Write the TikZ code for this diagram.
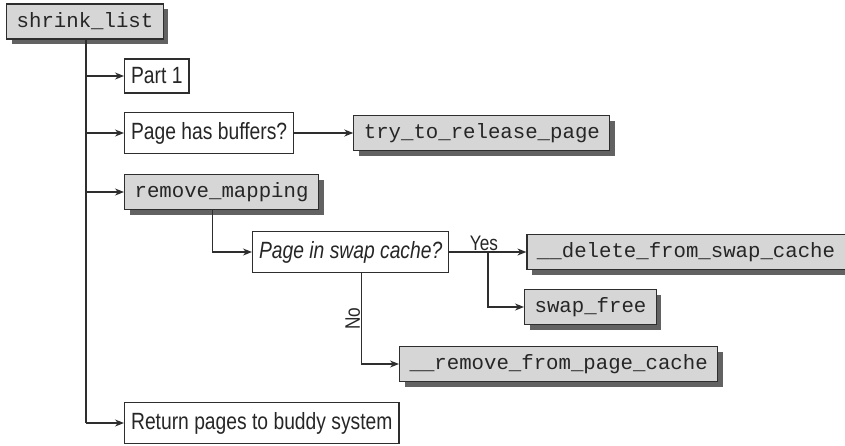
\documentclass[tikz,border=0pt]{standalone}
\usepackage{fontspec}
\setmainfont{Liberation Sans}[FakeStretch=0.82]
\setmonofont{Liberation Mono}
\usepackage{xcolor}
\usepackage{tikz}
\usetikzlibrary{arrows.meta, positioning, shadows}
\definecolor{klgray}{HTML}{D6D6D6}
\definecolor{klshadow}{HTML}{626262}
\definecolor{klline}{HTML}{2E2E2E}

\begin{document}
\begin{tikzpicture}[
  x=1pt, y=-1pt,
  fn/.style={rectangle, draw=klline, fill=klgray, line width=1.2pt,
    font=\fontsize{20.7}{24}\selectfont\ttfamily, text=black!85,
    minimum height=35pt, inner xsep=10pt, anchor=west,
    drop shadow={shadow xshift=5pt, shadow yshift=-5pt, fill=klshadow, opacity=1}},
  txt/.style={rectangle, draw=klline, fill=white, line width=1.2pt,
    font=\fontsize{23.5}{26}\selectfont, text=black!85,
    minimum height=41pt, inner xsep=6.5pt, anchor=west},
  lbl/.style={font=\fontsize{21}{24}\selectfont, text=black!85, inner sep=1pt},
  flow/.style={-{Stealth[length=9pt, width=7pt]}, line width=1.3pt, klline},
  node distance=0.4cm,
]
  \useasboundingbox (0,0) rectangle (845,445);

  \node[fn, anchor=center] (shrink) at (85,21.5) {shrink\_list};
  \node[txt, minimum height=34pt] (part1) at (124,76) {Part 1};
  \node[txt] (pbuf) at (124,133) {Page has buffers?};
  \node[fn, right=59pt of pbuf] (release) {try\_to\_release\_page};
  \node[fn] (rmap) at (124,192) {remove\_mapping};
  \node[txt] (swapq) at (252,252) {\itshape Page in swap cache?};
  \node[fn, right=77pt of swapq] (delcache) {\_\_delete\_from\_swap\_cache};
  \node[fn] (swapfree) at (524,307) {swap\_free};
  \node[fn] (rmcache) at (399,364) {\_\_remove\_from\_page\_cache};
  \node[txt] (buddy) at (124,423) {Return pages to buddy system};

  % trunk below shrink_list
  \coordinate (trunk) at ([xshift=1pt]shrink.south);
  \draw[line width=1.3pt, klline] (trunk) -- (trunk |- buddy.west);
  \foreach \n in {part1, pbuf, rmap, buddy}
    \draw[flow] (trunk |- \n.west) -- (\n.west);

  \draw[flow] (pbuf.east) -- (release.west);
  \draw[flow] ([xshift=-9pt]rmap.south) |- (swapq.west);

  % yes / no branches
  \draw[flow] (swapq.east) -- coordinate[pos=0.5] (yes)
    node[lbl, pos=0.45, above] {Yes} (delcache.west);
  \draw[flow] (yes) |- (swapfree.west);
  \draw[flow] ([xshift=11pt]swapq.south) |-
    node[lbl, pos=0.25, rotate=90, anchor=south] {No} (rmcache.west);
\end{tikzpicture}
\end{document}
